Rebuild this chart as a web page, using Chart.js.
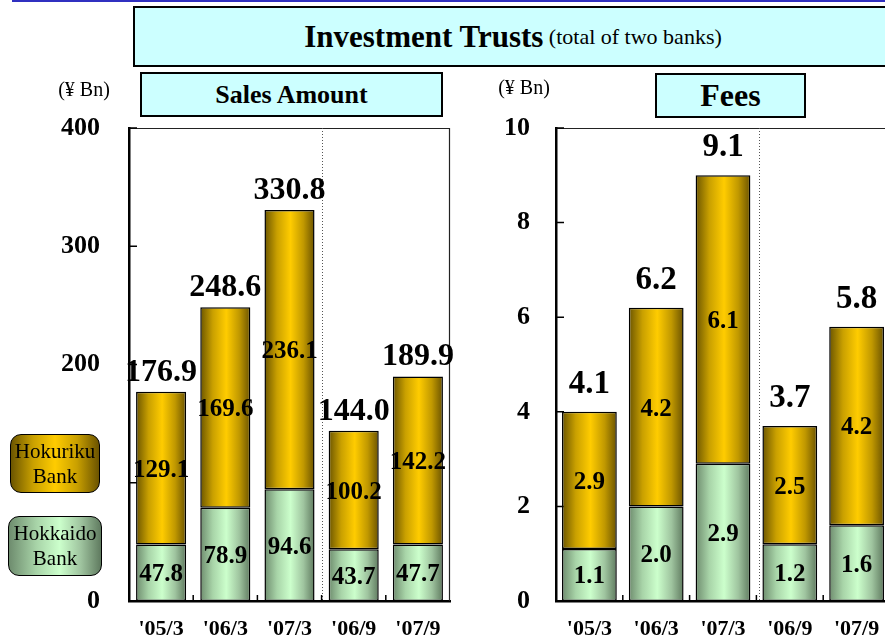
<!DOCTYPE html>
<html>
<head>
<meta charset="utf-8">
<script src="https://cdn.jsdelivr.net/npm/chart.js@4/dist/chart.umd.min.js"></script>
<style>
  html, body { margin: 0; padding: 0; width: 885px; height: 644px; overflow: hidden; background: #fff; }
  body { position: relative; font-family: "Liberation Serif", "Times New Roman", serif; color: #000; }
  canvas { position: absolute; top: 0; }
  .box { position: absolute; box-sizing: border-box; border: 2px solid #000; background: #ccffff;
         display: flex; align-items: center; justify-content: center; white-space: nowrap; }
  .unit { position: absolute; font-size: 20px; transform: translate(-50%, -50%); white-space: nowrap; }
  .legend { position: absolute; box-sizing: border-box; border: 1.5px solid #000; border-radius: 11px;
            display: flex; align-items: center; justify-content: center; text-align: center;
            font-family: "Liberation Serif", serif; font-size: 21px; line-height: 25px; }
</style>
</head>
<body>
<canvas id="sales" width="460" height="644" style="left:0"></canvas>
<canvas id="fees" width="430" height="644" style="left:470px"></canvas>

<div style="position:absolute;left:12px;top:0;width:873px;height:2px;background:#3030c0"></div>
<div class="box" style="left:133px;top:6px;width:760px;height:61px;">
  <span style="font-weight:bold;font-size:31px">Investment Trusts</span><span style="font-size:22px">&nbsp;(total of two banks)</span>
</div>
<div class="box" style="left:140px;top:72px;width:303px;height:45px;font-weight:bold;font-size:26px">Sales Amount</div>
<div class="box" style="left:655px;top:73px;width:151px;height:45px;font-weight:bold;font-size:32px">Fees</div>
<div class="unit" style="left:84px;top:89px">(¥ Bn)</div>
<div class="unit" style="left:524px;top:87px">(¥ Bn)</div>
<div class="legend" style="left:10px;top:434px;width:90px;height:59px;background:linear-gradient(to right,#6b5500 0%,#c9a000 25%,#ffcc00 50%,#c9a000 75%,#6b5300 100%)">Hokuriku<br>Bank</div>
<div class="legend" style="left:8px;top:516px;width:94px;height:60px;background:linear-gradient(to right,#6e8c6e 0%,#a8d4a8 30%,#ccffcc 55%,#9fc49f 78%,#5f7a5f 100%)">Hokkaido<br>Bank</div>

<script>
// ---- data ----
const categories = ["'05/3", "'06/3", "'07/3", "'06/9", "'07/9"];
const seriesNames = ["Hokkaido Bank", "Hokuriku Bank"];
const salesHokkaido = [47.8, 78.9, 94.6, 43.7, 47.7];
const salesHokuriku = [129.1, 169.6, 236.1, 100.2, 142.2];
const salesTotal = [176.9, 248.6, 330.8, 144.0, 189.9];
const feesHokkaido = [1.1, 2.0, 2.9, 1.2, 1.6];
const feesHokuriku = [2.9, 4.2, 6.1, 2.5, 4.2];
const feesTotal = [4.1, 6.2, 9.1, 3.7, 5.8];
const salesTicks = [0, 100, 200, 300, 400];
const feesTicks = [0, 2, 4, 6, 8, 10];

// ---- styles ----
const FONT = '"Liberation Serif", "Times New Roman", serif';
Chart.defaults.font.family = FONT;
Chart.defaults.color = '#000';
const GOLD = ['#6b5500', '#ffcc00', '#6b5300'];
const GREEN = ['#6e8c6e', '#ccffcc', '#5f7a5f'];

function grad(colors, frac) {
  return (ctx) => {
    const chart = ctx.chart;
    const xs = chart.scales && chart.scales.x;
    if (ctx.dataIndex === undefined || !xs || !chart.chartArea) return colors[1];
    const cx = xs.getPixelForValue(ctx.dataIndex);
    const w = xs.width / categories.length * frac;
    const g = chart.ctx.createLinearGradient(cx - w / 2, 0, cx + w / 2, 0);
    const gold = colors[0] === GOLD[0];
    g.addColorStop(0, colors[0]);
    g.addColorStop(0.25, gold ? '#c9a000' : '#a8d4a8');
    g.addColorStop(0.52, colors[1]);
    g.addColorStop(0.78, gold ? '#c09800' : '#9fc49f');
    g.addColorStop(1, colors[2]);
    return g;
  };
}

const decoPlugin = {
  id: 'deco',
  beforeDatasetsDraw(chart, args, opts) {
    const { ctx, chartArea: a, scales } = chart;
    ctx.save();
    ctx.strokeStyle = '#222';
    ctx.lineWidth = 1.2;
    ctx.beginPath();
    ctx.moveTo(a.left, a.top + 0.5); ctx.lineTo(a.right, a.top + 0.5);
    ctx.moveTo(a.right - 0.5, a.top); ctx.lineTo(a.right - 0.5, a.bottom);
    ctx.stroke();
    const xs = scales.x;
    const sx = Math.round((xs.getPixelForValue(2) + xs.getPixelForValue(3)) / 2 + opts.sepShift) + 0.5;
    ctx.strokeStyle = '#555';
    ctx.lineWidth = 1;
    ctx.setLineDash([1, 2]);
    ctx.beginPath(); ctx.moveTo(sx, a.top); ctx.lineTo(sx, a.bottom); ctx.stroke();
    ctx.setLineDash([]);
    ctx.strokeStyle = '#000';
    ctx.lineWidth = 1.5;
    ctx.beginPath();
    scales.y.ticks.forEach(t => {
      const y = scales.y.getPixelForValue(t.value);
      ctx.moveTo(a.left, y); ctx.lineTo(a.left + 8, y);
    });
    for (let i = 0; i < categories.length - 1; i++) {
      const bx = (xs.getPixelForValue(i) + xs.getPixelForValue(i + 1)) / 2;
      ctx.moveTo(bx, a.bottom); ctx.lineTo(bx, a.bottom - 6);
    }
    ctx.stroke();
    ctx.restore();
  },
  afterDatasetsDraw(chart, args, opts) {
    const { ctx } = chart;
    ctx.save();
    ctx.fillStyle = '#000';
    ctx.textAlign = 'center';
    ctx.textBaseline = 'middle';
    ctx.font = 'bold ' + opts.segSize + 'px ' + FONT;
    chart.data.datasets.forEach((ds, di) => {
      const meta = chart.getDatasetMeta(di);
      meta.data.forEach((el, i) => {
        ctx.fillText(opts.fmt(ds.data[i]), el.x, (el.y + el.base) / 2 + 2);
      });
    });
    const top = chart.getDatasetMeta(chart.data.datasets.length - 1);
    ctx.textBaseline = 'alphabetic';
    ctx.font = 'bold ' + opts.totSize + 'px ' + FONT;
    top.data.forEach((el, i) => {
      ctx.fillText(opts.fmt(opts.totals[i]), el.x, el.y - opts.totGap);
    });
    ctx.restore();
  }
};

function makeChart(id, lo, hi, frac, cfg) {
  return new Chart(document.getElementById(id), {
    type: 'bar',
    data: {
      labels: categories,
      datasets: [
        { label: seriesNames[0], data: lo, backgroundColor: grad(GREEN, frac),
          borderColor: '#000', borderWidth: 1.5, borderSkipped: false },
        { label: seriesNames[1], data: hi, backgroundColor: grad(GOLD, frac),
          borderColor: '#000', borderWidth: 1.5, borderSkipped: false }
      ]
    },
    options: {
      responsive: false,
      animation: false,
      devicePixelRatio: 1,
      barPercentage: 1,
      categoryPercentage: frac,
      layout: { padding: { top: 128, left: 0, right: 10, bottom: 0 } },
      plugins: {
        legend: { display: false },
        tooltip: { enabled: false },
        deco: cfg.deco
      },
      scales: {
        x: {
          stacked: true,
          grid: { display: false },
          border: { display: true, color: '#000', width: 2.5 },
          ticks: { font: { size: 22, weight: 'bold' }, padding: 7, color: '#000' },
          afterFit: s => { s.height = 43; }
        },
        y: {
          stacked: true,
          min: cfg.ticks[0],
          max: cfg.ticks[cfg.ticks.length - 1],
          afterBuildTicks: s => { s.ticks = cfg.ticks.map(v => ({ value: v })); },
          grid: { display: false },
          border: { display: true, color: '#000', width: 2.5 },
          ticks: { font: { size: cfg.tickSize, weight: 'bold' }, padding: cfg.tickPad, color: '#000' },
          afterFit: s => { s.width = cfg.yWidth; }
        }
      }
    },
    plugins: [decoPlugin]
  });
}

makeChart('sales', salesHokkaido, salesHokuriku, 0.78, {
  ticks: salesTicks, tickSize: 26, tickPad: 21, yWidth: 129,
  deco: { totals: salesTotal, segSize: 25, totSize: 32, totGap: 11, sepShift: 0,
          fmt: v => v.toFixed(1) }
});
makeChart('fees', feesHokkaido, feesHokuriku, 0.82, {
  ticks: feesTicks, tickSize: 26, tickPad: 18, yWidth: 86,
  deco: { totals: feesTotal, segSize: 25, totSize: 33, totGap: 19, sepShift: 3,
          fmt: v => v.toFixed(1) }
});
</script>
</body>
</html>
